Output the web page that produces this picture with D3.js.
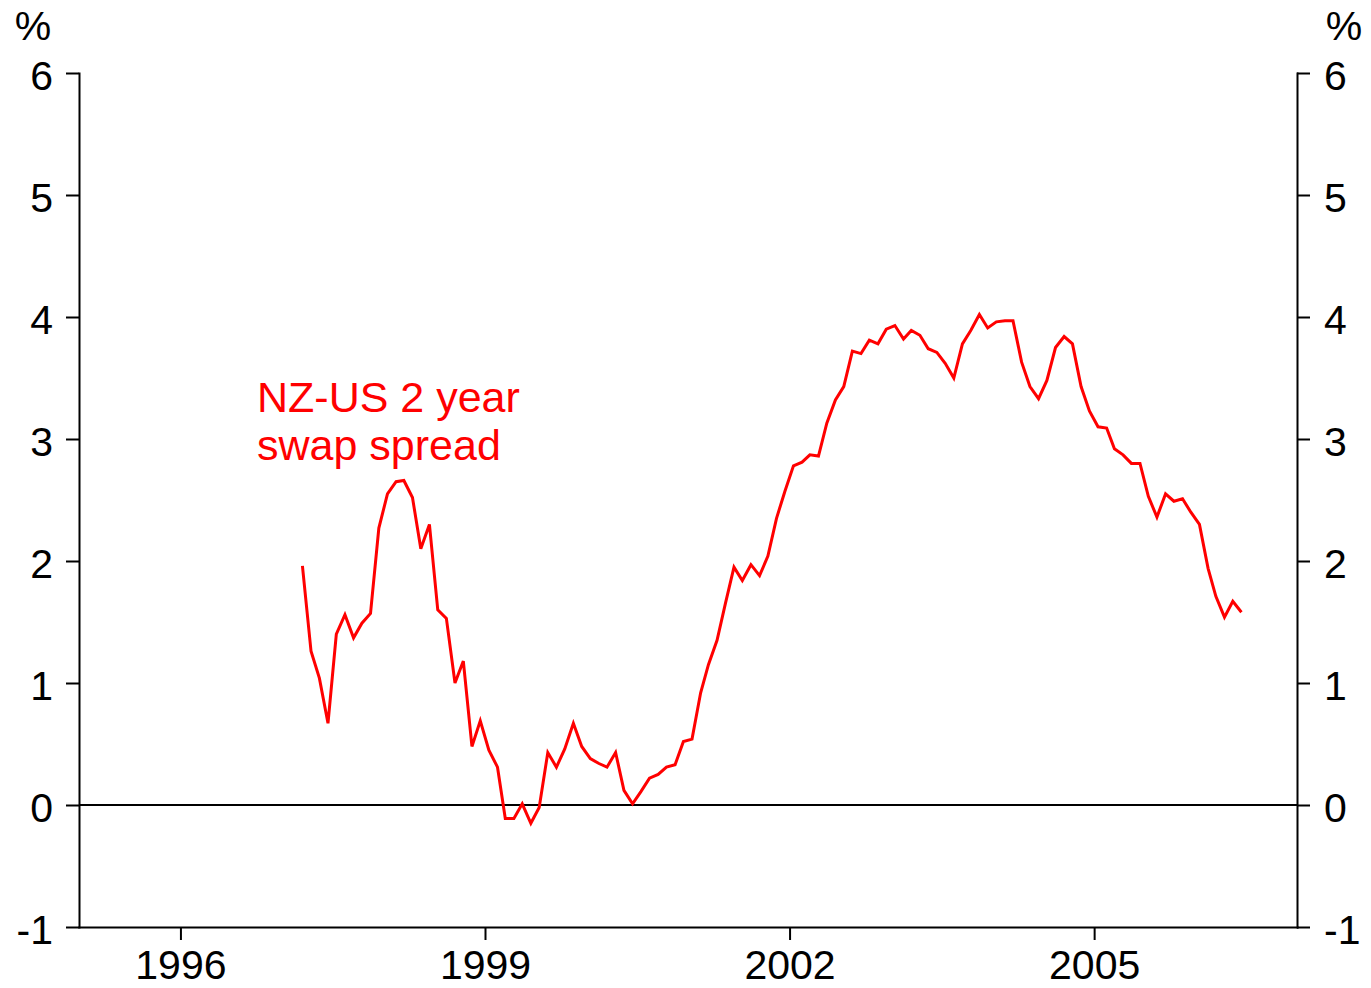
<!DOCTYPE html>
<html>
<head>
<meta charset="utf-8">
<script src="https://cdn.jsdelivr.net/npm/d3@7"></script>
<style>
  body { margin: 0; background: #fff; }
  text { font-family: "Liberation Sans", Arial, sans-serif; }
  .axis path, .axis line { stroke: #000; stroke-width: 2; }
  .axis text { font-size: 41px; fill: #000; }
</style>
</head>
<body>
<div id="chart-area"></div>
<script>
// SVG size
var width = 1371,
	height = 988;
var margin = {left: 79, right: 74, top: 73, bottom: 61};

// Monthly NZ-US 2 year swap spread, %, first value is March 1997
var startMonth = "1997-03";
var spread = [
	1.96, 1.26, 1.04, 0.67, 1.40, 1.56, 1.37, 1.49, 1.57, 2.27,
	2.55, 2.65, 2.66, 2.52, 2.10, 2.30, 1.60, 1.53, 1.00, 1.18,
	0.48, 0.69, 0.45, 0.31, -0.11, -0.11, 0.01, -0.15, -0.02, 0.43,
	0.31, 0.46, 0.67, 0.48, 0.38, 0.34, 0.31, 0.43, 0.12, 0.01,
	0.11, 0.22, 0.25, 0.31, 0.33, 0.52, 0.54, 0.92, 1.15, 1.35,
	1.65, 1.95, 1.84, 1.97, 1.88, 2.04, 2.35, 2.57, 2.78, 2.81,
	2.87, 2.86, 3.13, 3.32, 3.43, 3.72, 3.70, 3.81, 3.78, 3.90,
	3.93, 3.82, 3.89, 3.85, 3.74, 3.71, 3.62, 3.50, 3.78, 3.89,
	4.02, 3.91, 3.96, 3.97, 3.97, 3.63, 3.43, 3.33, 3.48, 3.75,
	3.84, 3.78, 3.43, 3.23, 3.10, 3.09, 2.92, 2.87, 2.80, 2.80,
	2.53, 2.36, 2.55, 2.49, 2.51, 2.40, 2.30, 1.94, 1.71, 1.54,
	1.67, 1.58
];

var yTicks = [-1, 0, 1, 2, 3, 4, 5, 6];
var xTickYears = ["1996", "1999", "2002", "2005"];
var xRange = ["1995-01-01", "2007-01-01"];
var seriesLabel = ["NZ-US 2 year", "swap spread"];
var unitLabel = "%";

// build dated points (plotted mid-month)
var parseMonth = d3.timeParse("%Y-%m");
var start = parseMonth(startMonth);
var data = spread.map(function(v, i){
	var d = d3.timeMonth.offset(start, i);
	return {date: d3.timeDay.offset(d, 14), value: v};
});

var svg = d3.select("#chart-area")
		.append("svg")
		.attr("width", width)
		.attr("height", height)
		.style("display", "block");

svg.append("rect").attr("width", width).attr("height", height).attr("fill", "#fff");

var x = d3.scaleTime()
		.domain(xRange.map(function(s){ return d3.timeParse("%Y-%m-%d")(s); }))
		.range([margin.left, width - margin.right]);

var y = d3.scaleLinear()
		.domain([-1, 6])
		.range([height - margin.bottom, margin.top]);

// zero line
svg.append("line")
		.attr("x1", x.range()[0])
		.attr("x2", x.range()[1])
		.attr("y1", y(0))
		.attr("y2", y(0))
		.attr("stroke", "#000")
		.attr("stroke-width", 2);

// series
var line = d3.line()
		.x(function(d){ return x(d.date); })
		.y(function(d){ return y(d.value); });

svg.append("path")
		.datum(data)
		.attr("fill", "none")
		.attr("stroke", "#ff0000")
		.attr("stroke-width", 3)
		.attr("stroke-linejoin", "miter")
		.attr("d", line);

// axes, labels use a plain hyphen for -1
var plain = function(d){ return String(d); };
var yAxisLeft = d3.axisLeft(y).tickValues(yTicks).tickFormat(plain)
		.tickSize(13).tickSizeOuter(0).tickPadding(13);
var yAxisRight = d3.axisRight(y).tickValues(yTicks).tickFormat(plain)
		.tickSize(13).tickSizeOuter(0).tickPadding(14);
var xAxis = d3.axisBottom(x)
		.tickValues(xTickYears.map(function(s){ return d3.timeParse("%Y")(s); }))
		.tickFormat(d3.timeFormat("%Y"))
		.tickSize(13)
		.tickSizeOuter(0)
		.tickPadding(10);

svg.append("g")
		.attr("class", "axis y-axis")
		.attr("transform", "translate(" + margin.left + ",0)")
		.call(yAxisLeft);

svg.append("g")
		.attr("class", "axis y-axis-right")
		.attr("transform", "translate(" + (width - margin.right) + ",0)")
		.call(yAxisRight);

svg.append("g")
		.attr("class", "axis x-axis")
		.attr("transform", "translate(0," + (height - margin.bottom) + ")")
		.call(xAxis);

svg.selectAll(".y-axis text, .y-axis-right text").attr("dy", "0.4em");
svg.selectAll(".axis .domain").attr("stroke-linecap", "square");

// unit labels
svg.append("text").text(unitLabel)
		.attr("x", 33)
		.attr("y", 40)
		.attr("text-anchor", "middle")
		.attr("font-size", 41);
svg.append("text").text(unitLabel)
		.attr("x", 1344)
		.attr("y", 40)
		.attr("text-anchor", "middle")
		.attr("font-size", 41);

// series annotation
svg.append("g").selectAll("text")
		.data(seriesLabel)
		.enter()
		.append("text")
		.text(function(d){ return d; })
		.attr("x", 257)
		.attr("y", function(d, i){ return 412 + i * 48; })
		.attr("fill", "#ff0000")
		.attr("font-size", 43);
</script>
</body>
</html>
